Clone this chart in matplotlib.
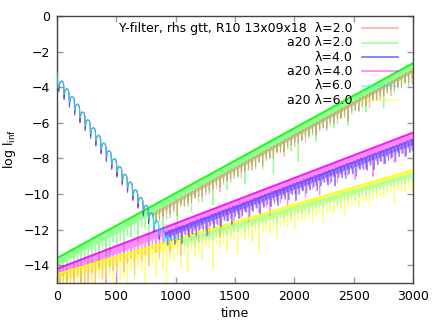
import numpy as np
import matplotlib
matplotlib.use("Agg")
import matplotlib.pyplot as plt

# ---------------- data ----------------
labels = ["Y-filter, rhs gtt, R10 13x09x18  \u03bb=2.0", "a20 \u03bb=2.0",
          "\u03bb=4.0", "a20 \u03bb=4.0", "\u03bb=6.0", "a20 \u03bb=6.0"]
colors = ["#ff0000", "#00ff00", "#0000ff", "#ff00ff", "#00ffff", "#ffff00"]
leg_alpha = [0.32, 0.38, 0.56, 0.5, 0.5, 0.5]

xticks = [0, 500, 1000, 1500, 2000, 2500, 3000]
yticks = [0, -2, -4, -6, -8, -10, -12, -14]

# decaying phase shared by the Y-filter runs: cusp times, cusp values, arch tops
decay_t = [16, 60, 105, 149, 194, 238, 283, 327, 372, 416, 461, 505, 550,
           594, 639, 683, 728, 772, 817, 861, 906]
decay_cusp = [-3.99, -4.42, -4.86, -5.29, -5.73, -6.16, -6.60, -7.03, -7.48,
              -7.91, -8.35, -8.78, -9.22, -9.65, -10.09, -10.52, -10.96,
              -11.40, -11.84, -12.27, -12.71]
decay_top = [-3.65, -4.08, -4.52, -4.95, -5.39, -5.83, -6.27, -6.70, -7.14,
             -7.57, -8.01, -8.45, -8.89, -9.32, -9.76, -10.19, -10.63,
             -11.06, -11.50, -11.93, -12.38]
decay_start = [-3.2, -4.05]  # initial transient at t=0, t=8
tip_extra = {"red": 0.2, "blue": 0.28, "cyan": 0.0}

# upper envelopes (time knots, log values)
green_t = [0, 1000, 2000, 3000]
green_top = [-13.6, -9.95, -6.3, -2.65]
mag_t = [0, 1000, 2000, 3000]
mag_top = [-14.2, -11.65, -9.1, -6.55]
yel_t = [0, 1000, 2000, 3000]
yel_top = [-14.5, -12.55, -10.6, -8.65]
red_t = [800, 2000, 3000]
red_top = [-11.1, -6.65, -3.0]
blue_t = [905, 2000, 3000]
blue_top = [-12.15, -9.4, -6.9]
cyan_t = [930, 1050, 2000, 3000]
cyan_top = [-12.55, -12.55, -10.7, -8.8]

# depth of the main downward spike below the envelope (one per oscillation)
green_dip = [1.8, 1.2, 2.0, 0.9, 1.6, 1.1, 2.2, 1.0, 1.5, 1.3,
             1.0, 1.8, 0.9, 1.4, 2.4, 0.8, 1.2, 1.0, 1.9, 0.9,
             1.1, 0.8, 1.6, 0.9, 1.0, 2.3, 0.8, 1.1, 0.9, 1.7,
             0.8, 1.2, 0.9, 2.0, 0.8, 1.0, 0.9, 1.5, 0.8, 0.9,
             1.3, 0.8, 0.9, 1.8, 0.8, 1.0, 0.8, 1.4, 0.9, 0.8,
             1.0, 0.8, 1.6, 0.9, 0.8, 1.1, 0.8, 1.3, 0.8, 0.9,
             1.9, 0.8, 0.9, 1.0, 0.8, 1.2, 0.8, 2.0, 0.9, 0.8,
             1.0, 0.8, 1.4, 0.8, 0.9, 1.0, 0.8, 1.2, 0.8, 0.9,
             0.8, 1.5, 0.8, 0.9, 1.0, 0.8, 1.3, 0.8, 0.9, 1.0,
             0.8, 1.6, 0.9, 0.8, 1.1, 0.8, 1.0, 0.9, 1.2, 0.8]
mag_dip = [2.0, 1.0, 1.8, 1.2, 2.2, 0.9, 1.6, 1.4, 2.0, 1.0,
           1.7, 0.9, 1.5, 2.1, 1.0, 1.3, 1.8, 0.9, 1.6, 1.2,
           1.0, 2.0, 0.9, 1.4, 1.1, 1.8, 0.9, 1.2, 1.6, 0.9,
           1.0, 1.5, 0.8, 1.1, 1.9, 0.8, 1.0, 1.3, 0.8, 1.6,
           0.8, 1.0, 1.4, 0.8, 0.9, 1.7, 0.8, 1.0, 0.9, 1.3,
           0.8, 1.1, 0.8, 1.5, 0.9, 0.8, 1.2, 0.8, 1.0, 1.6,
           0.8, 0.9, 1.1, 0.8, 1.4, 0.8, 0.9, 1.0, 0.8, 1.3,
           0.8, 1.0, 0.9, 1.5, 0.8, 0.9, 1.1, 0.8, 1.2, 0.8,
           0.9, 1.0, 0.8, 1.4, 0.8, 0.9, 1.0, 0.8, 1.6, 0.8,
           0.9, 1.1, 0.8, 1.0, 1.3, 0.8, 0.9, 1.2, 0.8, 1.0]
yel_dip = [1.2, 0.9, 1.6, 1.0, 1.4, 0.8, 1.8, 1.1, 1.0, 1.5,
           1.3, 0.9, 2.0, 1.1, 1.0, 1.7, 0.9, 1.4, 1.2, 2.2,
           1.0, 1.6, 0.9, 1.3, 2.4, 1.0, 1.1, 1.8, 0.9, 1.5,
           2.6, 1.0, 1.2, 0.9, 1.7, 1.0, 2.0, 0.9, 1.3, 1.1,
           1.6, 0.9, 1.0, 2.2, 0.9, 1.2, 1.0, 1.5, 0.9, 1.0,
           1.8, 0.9, 1.1, 1.0, 1.4, 0.9, 2.0, 1.0, 0.9, 1.2,
           1.0, 1.6, 0.9, 1.0, 1.2, 0.9, 1.4, 0.9, 1.0, 1.1,
           0.9, 1.3, 1.0, 0.9, 1.5, 0.9, 1.0, 1.2, 0.9, 1.0,
           1.4, 0.9, 1.0, 0.9, 1.2, 0.9, 1.0, 1.3, 0.9, 1.0,
           0.9, 1.1, 1.0, 0.9, 1.6, 0.9, 1.0, 1.1, 0.9, 1.2]
red_dip = [0.6, 0.7, 0.5, 0.8, 0.6, 0.6, 0.9, 0.5, 0.6, 0.7,
           0.6, 0.5, 0.8, 0.6, 0.6, 0.7, 0.5, 0.6, 0.9, 0.6,
           0.5, 0.7, 0.6, 0.6, 0.8, 0.5, 0.6, 0.7, 0.6, 0.5,
           0.8, 0.6, 0.6, 0.7, 0.5, 0.6, 0.9, 0.6, 0.5, 0.7,
           0.6, 0.6, 0.8, 0.5, 0.6, 0.7, 0.6, 0.5, 0.8, 0.6,
           0.6, 0.7, 0.5, 0.6, 0.9, 0.6, 0.5, 0.7, 0.6, 0.6,
           0.8, 0.5, 0.6, 0.7, 0.6, 0.5, 0.8, 0.6, 0.6, 0.7,
           0.5, 0.6, 0.8, 0.6, 0.5]
blue_dip = [0.8, 0.6, 0.9, 0.7, 1.0, 0.6, 0.8, 0.7, 0.9, 0.6,
            0.7, 1.1, 0.6, 0.8, 0.7, 0.9, 0.6, 0.7, 1.0, 0.6,
            0.8, 0.7, 0.6, 0.9, 0.7, 0.6, 1.0, 0.7, 0.6, 0.8,
            0.7, 0.9, 0.6, 0.7, 0.8, 0.6, 1.0, 0.7, 0.6, 0.8,
            0.7, 0.6, 0.9, 0.7, 0.6, 0.8, 0.7, 1.0, 0.6, 0.7,
            0.8, 0.6, 0.7, 0.9, 0.6, 0.7, 0.8, 0.6, 0.9, 0.7,
            0.6, 0.8, 0.7, 0.6, 0.9, 0.7, 0.6, 0.8, 0.7, 0.6, 0.8]
cyan_dip = [0.4, 0.5, 0.4, 0.6, 0.4, 0.5, 0.4, 0.5, 0.6, 0.4,
            0.5, 0.4, 0.5, 0.6, 0.4, 0.5, 0.4, 0.6, 0.5, 0.4,
            0.5, 0.6, 0.4, 0.5, 0.4, 0.5, 0.6, 0.4, 0.5, 0.4,
            0.6, 0.5, 0.4, 0.5, 0.4, 0.6, 0.5, 0.4, 0.5, 0.6,
            0.4, 0.5, 0.4, 0.6, 0.5, 0.4, 0.5, 0.4, 0.6, 0.5,
            0.4, 0.5, 0.6, 0.4, 0.5, 0.4, 0.5, 0.6, 0.4, 0.5,
            0.4, 0.6, 0.5, 0.4, 0.5, 0.4, 0.5, 0.6, 0.4, 0.5]
period = 30.0
small_dip = 0.45   # depth of the fine oscillation riding on the envelope

# ---------------- drawing helpers ----------------
def spiky(t_knots, top_knots, dips, t_start, small=small_dip):
    xs, ys = [], []
    for i, d in enumerate(dips):
        t0 = t_start + i * period
        if t0 > 3000:
            break
        pattern = ((0.0, 0.0), (0.18, small), (0.36, 0.03),
                   (0.52, small * 0.9), (0.66, 0.05), (0.78, d), (0.9, 0.1))
        for frac, off in pattern:
            t = t0 + frac * period
            xs.append(t)
            ys.append(np.interp(t, t_knots, top_knots) - off)
    return xs, ys

def decay(extra, n_arches):
    xs = [0, 8]
    ys = list(decay_start)
    for k in range(n_arches):
        c = decay_t[k]
        top = decay_top[k]
        xs += [c, c + 3, c + 9, c + 22, c + 35, c + 41]
        ys += [decay_cusp[k] - extra, top - 0.28, top - 0.07, top, top - 0.07, top - 0.25]
    return xs, ys

W, H = 436, 327
fig = plt.figure(figsize=(W / 100, H / 100), dpi=100)
ax = fig.add_axes([57 / W, 1 - 283 / H, 356 / W, 267 / H])

lw = 0.8
# a20 series (start at noise level)
for tk, tp, dp, col, a in [(green_t, green_top, green_dip, colors[1], 0.42),
                           (mag_t, mag_top, mag_dip, colors[3], 0.45),
                           (yel_t, yel_top, yel_dip, colors[5], 0.55)]:
    x, y = spiky(tk, tp, dp, 0)
    ax.plot(x, y, color=col, alpha=a, lw=lw, zorder=2)
    ax.plot(tk, tp, color=col, alpha=0.9, lw=1.4, zorder=2.1)

# Y-filter series: decay, then growth inside the matching a20 band
for key, col, tk, tp, dp, n_arch, t_start, a, ad, sm in [
        ("red", colors[0], red_t, red_top, red_dip, 18, 810, 0.28, 0.55, 0.2),
        ("blue", colors[2], blue_t, blue_top, blue_dip, 20, 910, 0.45, 0.45, 0.35),
        ("cyan", colors[4], cyan_t, cyan_top, cyan_dip, 21, 1050, 0.3, 0.7, 0.2)]:
    xd, yd = decay(tip_extra[key], n_arch)
    if key == "cyan":
        xd += list(cyan_t[:2])
        yd += list(cyan_top[:2])
    xg, yg = spiky(tk, tp, dp, t_start, sm)
    ax.plot(xd, yd, color=col, alpha=ad, lw=lw, zorder=3)
    ax.plot(xg, yg, color=col, alpha=a, lw=lw, zorder=3)

ax.set_xlim(0, 3000)
ax.set_ylim(-15, 0)
ax.set_xticks(xticks)
ax.set_yticks(yticks)
fs = 9
ax.tick_params(direction="in", length=4, width=1, color="#999999",
               labelsize=fs, top=True, right=True, labelcolor="black", pad=5)
for s in ax.spines.values():
    s.set_color("#444444")
    s.set_linewidth(1)
ax.set_xlabel("time", fontsize=fs, labelpad=3)
ax.set_ylabel("log l$_{\\mathregular{inf}}$", fontsize=fs, labelpad=4)

# legend drawn gnuplot style: right-aligned text, sample to the right
for i, (lab, col, a) in enumerate(zip(labels, colors, leg_alpha)):
    yy = 0.954 - i * 0.0538
    ax.text(0.831, yy, lab, transform=ax.transAxes, ha="right", va="center",
            fontsize=fs, zorder=6)
    ax.plot([0.857, 0.958], [yy, yy], transform=ax.transAxes, color=col,
            alpha=a, lw=1.2, zorder=6)

fig.savefig("out.png", dpi=100)
